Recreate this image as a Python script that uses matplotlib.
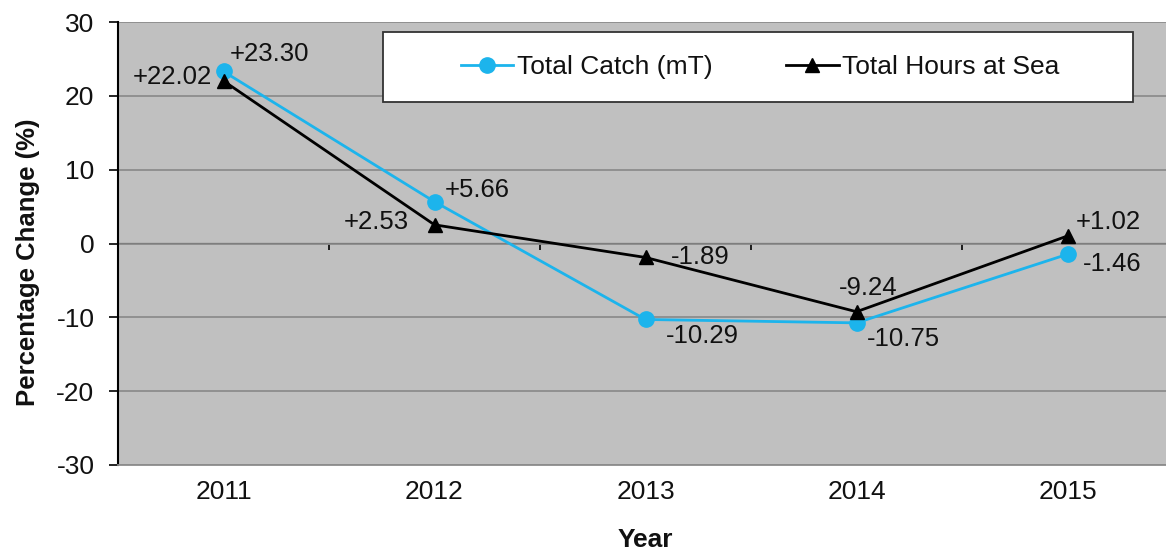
import numpy as np
import matplotlib
matplotlib.use("Agg")
import matplotlib.pyplot as plt
from matplotlib.patches import Rectangle

plt.rcParams['font.family'] = ['Liberation Sans', 'DejaVu Sans']
plt.rcParams['axes.unicode_minus'] = False

years = ['2011', '2012', '2013', '2014', '2015']
catch = [23.30, 5.66, -10.29, -10.75, -1.46]
hours = [22.02, 2.53, -1.89, -9.24, 1.02]

# label offsets in pixels (dx, dy, ha)
catch_off = [(6, 17, 'left'), (10, 12, 'left'), (20, -17, 'left'), (10, -16, 'left'), (15, -10, 'left')]
hours_off = [(-12, 4, 'right'), (-26, 3, 'right'), (25, 0, 'left'), (12, 24, 'center'), (8, 14, 'left')]

blue = '#1cb4ec'
grey_bg = '#c0c0c0'
grid_c = '#8c8c8c'
txt = '#111111'

fig = plt.figure(figsize=(11.66, 5.52), dpi=100)
ax = fig.add_axes([118 / 1166, 1 - 465 / 552, 1055 / 1166, 443 / 552])
ax.set_facecolor(grey_bg)

x = np.arange(len(years))
ax.plot(x, catch, color=blue, lw=2.0, marker='o', ms=11, label='Total Catch (mT)', zorder=4)
ax.plot(x, hours, color='black', lw=2.0, marker='^', ms=10, label='Total Hours at Sea', zorder=5)

for i, v in enumerate(catch):
    dx, dy, ha = catch_off[i]
    ax.annotate(f'{v:+.2f}', (x[i], v), xytext=(dx, dy), textcoords='offset pixels',
                ha=ha, va='center', fontsize=18.5, color=txt, zorder=6)
for i, v in enumerate(hours):
    dx, dy, ha = hours_off[i]
    ax.annotate(f'{v:+.2f}', (x[i], v), xytext=(dx, dy), textcoords='offset pixels',
                ha=ha, va='center', fontsize=18.5, color=txt, zorder=6)

ax.set_xlim(-0.5, len(years) - 0.5)
ax.set_ylim(-30, 30)
ax.set_yticks(np.arange(-30, 31, 10))
ax.set_xticks(x)
ax.set_xticklabels(years)
ax.yaxis.grid(True, color=grid_c, lw=1.3)
ax.set_axisbelow(True)

for s in ['top', 'right']:
    ax.spines[s].set_visible(False)
ax.spines['bottom'].set_color(grid_c)
ax.spines['bottom'].set_linewidth(1.3)
ax.spines['left'].set_color('black')
ax.spines['left'].set_linewidth(1.5)
ax.tick_params(axis='x', length=0, pad=11, labelsize=19, labelcolor=txt)
ax.tick_params(axis='y', length=6.5, width=1.2, direction='out', pad=10.5, labelsize=19, labelcolor=txt)

# category axis crossing at zero
sec = ax.secondary_xaxis(0.5)
sec.set_xticks(np.arange(len(years) + 1) - 0.5)
sec.tick_params(direction='out', length=4, width=1.2, labelbottom=False, labeltop=False,
                bottom=True, top=False)
sec.spines['bottom'].set_color('black')
sec.spines['bottom'].set_linewidth(1.5)

fig.text(28 / 1166, 1 - 262 / 552, 'Percentage Change (%)', fontsize=18.5, fontweight='bold',
         rotation=90, ha='center', va='center', color=txt)
fig.text(645 / 1166, 1 - 540 / 552, 'Year', fontsize=19, fontweight='bold', ha='center', va='center',
         color=txt)

# legend box
fig.patches.append(Rectangle((383 / 1166, 1 - 102 / 552), 750 / 1166, 70 / 552,
                             transform=fig.transFigure, facecolor='white', edgecolor='#333333',
                             lw=1.3, zorder=3))
leg = fig.legend(loc='center', bbox_to_anchor=(760 / 1166, 1 - 67 / 552), ncol=2, frameon=False,
                 fontsize=19, handlelength=2.0, handletextpad=0.12, columnspacing=2.8,
                 markerscale=1.0)
for t in leg.get_texts():
    t.set_color(txt)
leg.set_zorder(10)

fig.savefig('out.png', dpi=100)
